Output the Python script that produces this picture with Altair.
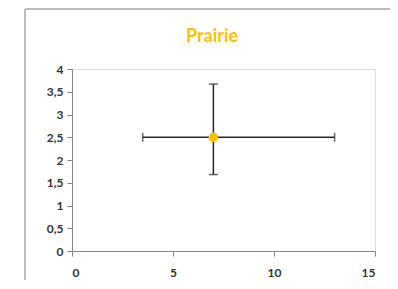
import altair as alt
import pandas as pd

# Data
title_text = "Prairie"
x_vals = [7]
y_vals = [2.5]
x_low = [3.5]
x_high = [13]
y_low = [1.68]
y_high = [3.67]
y_ticks = [0, 0.5, 1, 1.5, 2, 2.5, 3, 3.5, 4]
x_ticks = [0, 5, 10, 15]

df = pd.DataFrame({"x": x_vals, "y": y_vals, "xlo": x_low, "xhi": x_high,
                   "ylo": y_low, "yhi": y_high, "title": [title_text]})

FONT = "Lato"
GOLD = "#FFC000"
BAR = "#262626"
FRAME = "#a6a6a6"

xs = alt.Scale(domain=[0, 15], nice=False, zero=False)
ys = alt.Scale(domain=[0, 4], nice=False, zero=False)

xaxis = alt.Axis(values=x_ticks, grid=False, title=None, domainColor="#868686",
                 tickColor="#868686", tickSize=5, labelPadding=11, labelFontSize=12,
                 labelColor="#333333", labelFont=FONT, labelFontWeight="bold",
                 labelOverlap=False)
yaxis = alt.Axis(values=y_ticks, grid=False, title=None, domainColor="#868686",
                 tickColor="#868686", tickSize=5, labelPadding=4, labelFontSize=12,
                 labelColor="#333333", labelFont=FONT, labelFontWeight="bold",
                 labelOverlap=False,
                 labelExpr="replace(toString(datum.value), '.', ',')")

def X(f):
    return alt.X(f, type="quantitative", scale=xs, axis=xaxis)

def Y(f):
    return alt.Y(f, type="quantitative", scale=ys, axis=yaxis)

base = alt.Chart(df)

frame_left = base.mark_rule(color=FRAME, strokeWidth=1.5, clip=False).encode(
    x=alt.value(-47), y=alt.value(-60), y2=alt.value(300)
)
frame_top = base.mark_rule(color=FRAME, strokeWidth=1.5, clip=False).encode(
    y=alt.value(-60), x=alt.value(-47), x2=alt.value(400)
)

title = base.mark_text(color=GOLD, font=FONT, fontSize=18, fontWeight="bold",
                       baseline="alphabetic", align="center").encode(
    x=alt.value(140), y=alt.value(-27), text="title:N"
)

hbar = base.mark_rule(color=BAR, strokeWidth=1.5).encode(
    x=X("xlo"), x2="xhi:Q", y=Y("y")
)
vbar = base.mark_rule(color=BAR, strokeWidth=1.5).encode(
    x=X("x"), y=Y("ylo"), y2="yhi:Q"
)
hcap_lo = base.mark_tick(color=BAR, orient="vertical", size=9, thickness=1.5).encode(
    x=X("xlo"), y=Y("y"))
hcap_hi = base.mark_tick(color=BAR, orient="vertical", size=9, thickness=1.5).encode(
    x=X("xhi"), y=Y("y"))
vcap_lo = base.mark_tick(color=BAR, orient="horizontal", size=9, thickness=1.5).encode(
    x=X("x"), y=Y("ylo"))
vcap_hi = base.mark_tick(color=BAR, orient="horizontal", size=9, thickness=1.5).encode(
    x=X("x"), y=Y("yhi"))
point = base.mark_circle(color=GOLD, opacity=1, size=90).encode(x=X("x"), y=Y("y"))

chart = alt.layer(frame_left, frame_top, title, hbar, vbar, hcap_lo, hcap_hi,
                  vcap_lo, vcap_hi, point).properties(
    width=303, height=182,
    autosize=alt.AutoSizeParams(type="none"),
    padding={"left": 64, "top": 61, "right": 15, "bottom": 29},
).configure_view(stroke=None).configure(background="white")

chart.save("out.html", embed_options={"renderer": "svg", "actions": False})
